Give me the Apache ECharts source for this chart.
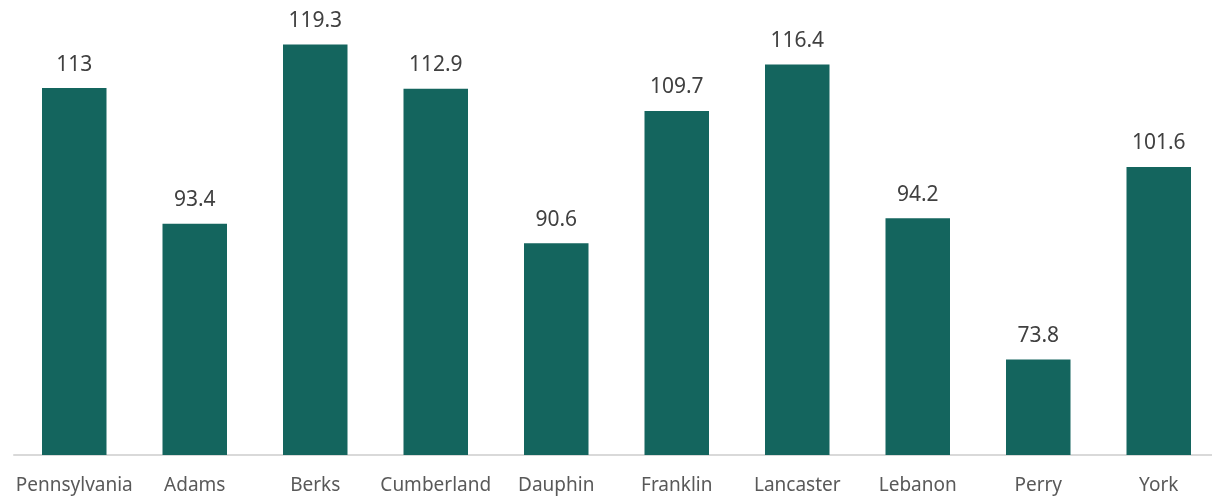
<!DOCTYPE html>
<html>
<head>
<meta charset="utf-8">
<script src="https://cdn.jsdelivr.net/npm/echarts@6/dist/echarts.min.js"></script>
<style>
  html, body { margin: 0; padding: 0; background: #fff; overflow: hidden; }
  /* a bit wider than the window: the last category runs off the right edge */
  #chart { width: 1220px; height: 497px; }
</style>
</head>
<body>
<div id="chart"></div>
<script>
// counties and their values
const counties = ["Pennsylvania", "Adams", "Berks", "Cumberland", "Dauphin", "Franklin", "Lancaster", "Lebanon", "Perry", "York"]
const values = [113, 93.4, 119.3, 112.9, 90.6, 109.7, 116.4, 94.2, 73.8, 101.6]

const myChart = echarts.init(document.getElementById("chart"))

const option = {
  animation: false,
  grid: {
    left: 14,
    right: 1,
    top: 5,
    bottom: 42,
    containLabel: false
  },
  xAxis: {
    type: "category",
    data: counties,
    axisTick: { show: false },
    axisLine: { show: true, lineStyle: { color: "#d9d9d9", width: 2 } },
    axisLabel: {
      interval: 0,
      color: "#595959",
      fontSize: 19,
      fontFamily: "Noto Sans",
      margin: 21
    }
  },
  yAxis: {
    type: "value",
    min: 60,
    max: 125,
    show: false,
    splitLine: { show: false }
  },
  series: [
    {
      type: "bar",
      data: values,
      barWidth: 64.5,
      itemStyle: { color: "#14655e" },
      label: {
        show: true,
        position: "top",
        distance: 13,
        color: "#404040",
        fontSize: 21,
        fontFamily: "Noto Sans"
      }
    }
  ]
}

myChart.setOption(option)
</script>
</body>
</html>
